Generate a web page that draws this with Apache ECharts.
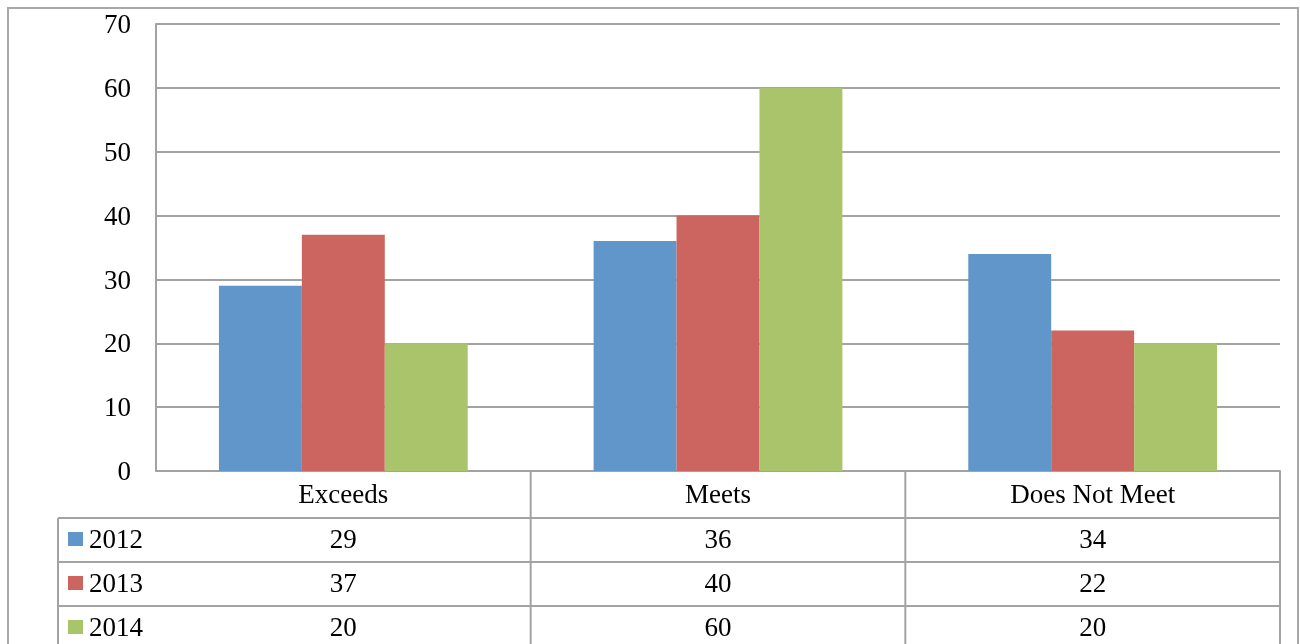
<!DOCTYPE html>
<html>
<head>
<meta charset="utf-8">
<script src="https://cdn.jsdelivr.net/npm/echarts@6/dist/echarts.min.js"></script>
<style>
  html, body { margin: 0; padding: 0; background: #fff; }
  #chart { width: 1300px; height: 644px; }
</style>
</head>
<body>
<div id="chart"></div>
<script>
// Data
var categories = ['Exceeds', 'Meets', 'Does Not Meet'];
var seriesNames = ['2012', '2013', '2014'];
var values2012 = [29, 36, 34];
var values2013 = [37, 40, 22];
var values2014 = [20, 60, 20];
var yTicks = [0, 10, 20, 30, 40, 50, 60, 70];

var allValues = [values2012, values2013, values2014];
var colors = ['#6096ca', '#cc6560', '#a9c46b'];

var fontFamily = '"Liberation Serif", serif';
var fontSize = 27;
var lineColor = '#a3a3a3';

// Layout
var plotLeft = 156, plotRight = 1280, plotTop = 24, axisY = 471;
var tableLeft = 58, catRowH = 47, rowH = 44;

var chartEl = document.getElementById('chart');
var chart = echarts.init(chartEl);

// Axis label: category + one value per series, stacked like a data table
var rich = {
    c: { fontFamily: fontFamily, fontSize: fontSize, color: '#000', lineHeight: catRowH, align: 'center' },
    v: { fontFamily: fontFamily, fontSize: fontSize, color: '#000', lineHeight: rowH, align: 'center' }
};

// Table lines and row headers
var graphics = [];
function hLine(x1, x2, y) {
    graphics.push({ type: 'line', silent: true, shape: { x1: x1, y1: y, x2: x2, y2: y },
        style: { stroke: lineColor, lineWidth: 2 } });
}
function vLine(x, y1, y2) {
    graphics.push({ type: 'line', silent: true, shape: { x1: x, y1: y1, x2: x, y2: y2 },
        style: { stroke: lineColor, lineWidth: 2 } });
}

// outer border
graphics.push({ type: 'rect', silent: true, shape: { x: 8, y: 8, width: 1290, height: 660 },
    style: { fill: null, stroke: '#a8a8a8', lineWidth: 2 } });

var colW = (plotRight - plotLeft) / categories.length;
var tableBottom = axisY + catRowH + rowH * seriesNames.length;
for (var r = 0; r <= seriesNames.length; r++) {
    hLine(tableLeft, plotRight, axisY + catRowH + r * rowH);
}
vLine(tableLeft, axisY + catRowH, tableBottom);
vLine(plotRight, axisY, tableBottom);
for (var k = 1; k < categories.length; k++) {
    vLine(plotLeft + k * colW, axisY, tableBottom);
}
seriesNames.forEach(function (name, i) {
    var top = axisY + catRowH + i * rowH;
    graphics.push({ type: 'rect', silent: true, shape: { x: 68, y: top + 14, width: 15, height: 14 },
        style: { fill: colors[i] } });
    graphics.push({ type: 'text', silent: true, x: 89, y: top + rowH / 2 + 1,
        style: { text: name, fontFamily: fontFamily, fontSize: fontSize, fill: '#000',
            verticalAlign: 'middle', align: 'left' } });
});

chart.setOption({
    animation: false,
    color: colors,
    textStyle: { fontFamily: fontFamily },
    grid: {
        left: plotLeft,
        right: 1300 - plotRight,
        top: plotTop,
        bottom: 644 - axisY,
        containLabel: false
    },
    xAxis: {
        type: 'category',
        data: categories,
        axisLine: { show: true, lineStyle: { color: lineColor, width: 2 } },
        axisTick: { show: false },
        splitLine: { show: false },
        axisLabel: {
            margin: 1,
            interval: 0,
            formatter: function (val, idx) {
                var s = '{c|' + val + '}';
                allValues.forEach(function (arr) { s += '\n{v|' + arr[idx] + '}'; });
                return s;
            },
            verticalAlign: 'top',
            rich: rich
        }
    },
    yAxis: {
        type: 'value',
        min: yTicks[0],
        max: yTicks[yTicks.length - 1],
        interval: 10,
        axisLine: { show: true, lineStyle: { color: lineColor, width: 2 } },
        axisTick: { show: false },
        splitLine: { show: true, lineStyle: { color: lineColor, width: 2 } },
        axisLabel: {
            margin: 25,
            color: '#000',
            formatter: '{t|{value}}',
            rich: { t: { fontFamily: fontFamily, fontSize: fontSize, color: '#000', padding: [4, 0, 0, 0] } }
        }
    },
    graphic: graphics,
    series: seriesNames.map(function (name, i) {
        return {
            name: name,
            type: 'bar',
            data: allValues[i],
            barGap: '0%',
            barCategoryGap: '33.6%',
            itemStyle: { color: colors[i] }
        };
    })
});

window.addEventListener('resize', function () { chart.resize(); });
</script>
</body>
</html>
